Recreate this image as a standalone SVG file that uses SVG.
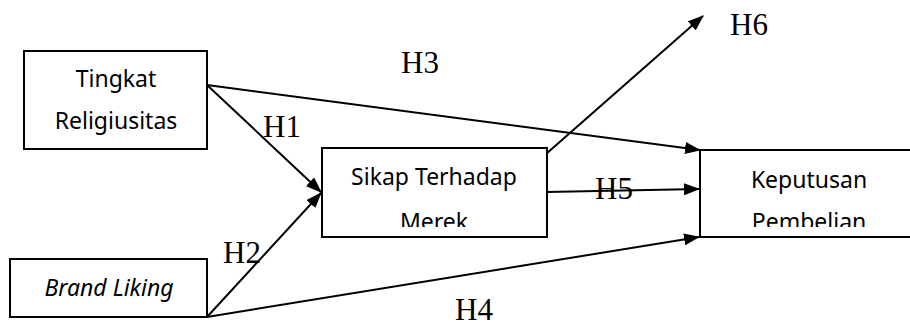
<svg xmlns="http://www.w3.org/2000/svg" width="910" height="327" viewBox="0 0 910 327">
<style>
.box{fill:#fff;stroke:#000;stroke-width:2}
.t{font-family:"Noto Sans","Open Sans",sans-serif;font-size:23px;fill:#000;text-anchor:middle}
.h{font-family:"Liberation Serif","Times New Roman",serif;font-size:31px;fill:#000}
.c{stroke:#000;stroke-width:2;fill:none;marker-end:url(#a)}
</style>
<defs>
<marker id="a" viewBox="0 0 16 12" refX="15" refY="6" markerWidth="16" markerHeight="12" markerUnits="userSpaceOnUse" orient="auto">
<path d="M0,0 L16,6 L0,12 Z" fill="#000"/>
</marker>
<clipPath id="c2"><rect x="322" y="148" width="225" height="79"/></clipPath>
<clipPath id="c3"><rect x="700" y="150" width="210" height="77"/></clipPath>
</defs>
<g id="connectors">
<line class="c" x1="207" y1="85" x2="700" y2="150"/>
<line class="c" x1="207" y1="85" x2="321" y2="192"/>
<line class="c" x1="207" y1="317" x2="321" y2="193"/>
<line class="c" x1="207" y1="317" x2="699" y2="237"/>
<line class="c" x1="547" y1="192" x2="699" y2="189"/>
<line class="c" x1="546" y1="154" x2="703" y2="16"/>
</g>
<g id="n1">
<rect class="box" x="24" y="51" width="183" height="98"/>
<text class="t" x="116" y="87">Tingkat</text>
<text class="t" x="116" y="129">Religiusitas</text>
</g>
<g id="n2">
<rect class="box" x="322" y="148" width="225" height="89"/>
<text class="t" x="434" y="185">Sikap Terhadap</text>
<text class="t" x="434" y="230" clip-path="url(#c2)">Merek</text>
</g>
<g id="n3">
<rect class="box" x="700" y="150" width="220" height="87"/>
<text class="t" x="809" y="188">Keputusan</text>
<text class="t" x="809" y="230" clip-path="url(#c3)">Pembelian</text>
</g>
<g id="n4">
<rect class="box" x="10" y="259" width="197" height="58"/>
<text class="t" x="109" y="296" font-style="italic">Brand Liking</text>
</g>
<g id="labels">
<text class="h" x="730" y="35">H6</text>
<text class="h" x="401" y="73">H3</text>
<text class="h" x="263" y="137">H1</text>
<text class="h" x="223" y="263">H2</text>
<text class="h" x="595" y="199">H5</text>
<text class="h" x="455" y="320">H4</text>
</g>
</svg>
